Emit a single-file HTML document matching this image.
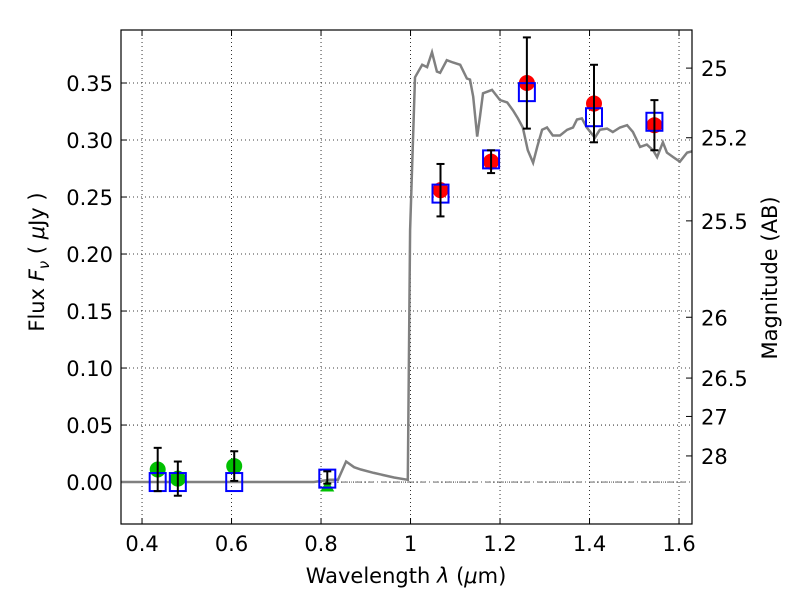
<!DOCTYPE html>
<html><head><meta charset="utf-8"><style>
body{margin:0;background:#fff;}
svg text{font-family:"DejaVu Sans","Liberation Sans",sans-serif;}
</style></head><body>
<svg id="c" width="800" height="600" xmlns="http://www.w3.org/2000/svg"></svg>
<script>
const specLam=[0.353,0.784,0.820,0.838,0.856,0.874,0.889,0.918,0.963,0.994,0.999,1.010,1.026,1.037,1.048,1.059,1.066,1.081,1.095,1.111,1.126,1.133,1.140,1.149,1.155,1.162,1.182,1.200,1.216,1.229,1.240,1.251,1.262,1.274,1.283,1.294,1.305,1.318,1.334,1.350,1.363,1.372,1.383,1.394,1.412,1.423,1.439,1.452,1.468,1.484,1.497,1.513,1.528,1.542,1.551,1.564,1.573,1.587,1.602,1.618,1.629];
const specFlux=[0,0,0.002,0.002,0.018,0.013,0.011,0.008,0.004,0.002,0.221,0.355,0.366,0.364,0.377,0.360,0.359,0.370,0.368,0.366,0.354,0.353,0.338,0.303,0.320,0.341,0.344,0.335,0.333,0.326,0.319,0.311,0.291,0.280,0.294,0.309,0.311,0.304,0.304,0.309,0.311,0.318,0.319,0.311,0.302,0.309,0.310,0.307,0.311,0.313,0.307,0.294,0.296,0.291,0.285,0.298,0.289,0.285,0.281,0.289,0.290];
const greenLam=[0.435,0.48,0.606];
const greenFlux=[0.011,0.003,0.014];
const greenErr=[0.019,0.015,0.013];
const triLam=[0.814];
const triFlux=[-0.003];
const triErr=[0.009];
const redLam=[1.067,1.18,1.26,1.41,1.545];
const redFlux=[0.256,0.281,0.350,0.332,0.313];
const redErr=[0.023,0.010,0.040,0.034,0.022];
const modelLam=[0.435,0.48,0.606,0.814,1.067,1.18,1.26,1.41,1.545];
const modelFlux=[0.0,0.0,0.0,0.003,0.253,0.283,0.342,0.320,0.316];
const xTicks=[0.4,0.6,0.8,1.0,1.2,1.4,1.6];
const xTickLabels=["0.4","0.6","0.8","1","1.2","1.4","1.6"];
const yTicks=[0,0.05,0.1,0.15,0.2,0.25,0.3,0.35];
const yTickLabels=["0.00","0.05","0.10","0.15","0.20","0.25","0.30","0.35"];
const magTicks=[25,25.2,25.5,26,26.5,27,28];
const magTickLabels=["25","25.2","25.5","26","26.5","27","28"];

const L=121,R=692,T=30,B=524,X0=0.353,X1=1.629,Y0=-0.0368,Y1=0.3965;
const sx=v=>L+(v-X0)/(X1-X0)*(R-L);
const sy=v=>B-(v-Y0)/(Y1-Y0)*(B-T);
const NS="http://www.w3.org/2000/svg";
const svg=document.getElementById('c');
function mk(t,a,p){const e=document.createElementNS(NS,t);for(const k in a)e.setAttribute(k,a[k]);(p||svg).appendChild(e);return e;}
const defs=mk('defs',{});const cp=mk('clipPath',{id:'clip'},defs);mk('rect',{x:L,y:T,width:R-L,height:B-T},cp);
const grid=mk('g',{});


xTicks.forEach((v,i)=>{const x=sx(v);
 mk('line',{x1:x,x2:x,y1:T,y2:B,stroke:'#000','stroke-width':0.8,'stroke-dasharray':'1,3'},grid);
 mk('line',{x1:x,x2:x,y1:B,y2:B-6,stroke:'#000'});mk('line',{x1:x,x2:x,y1:T,y2:T+6,stroke:'#000'});
 const t=mk('text',{x:x,y:B+27,'font-size':21,'text-anchor':'middle'});t.textContent=xTickLabels[i];
 
 
});
yTicks.forEach((v,i)=>{const y=sy(v);
 mk('line',{x1:L,x2:R,y1:y,y2:y,stroke:'#000','stroke-width':0.8,'stroke-dasharray':'1,3'},grid);
 mk('line',{x1:L,x2:L+6,y1:y,y2:y,stroke:'#000'});
 const t=mk('text',{x:L-8,y:y+8,'font-size':21,'text-anchor':'end'});t.textContent=yTickLabels[i];
 
 
});
magTicks.forEach((m,i)=>{const y=sy(Math.pow(10,(23.9-m)/2.5));
 mk('line',{x1:R-6,x2:R,y1:y,y2:y,stroke:'#000'});
 const t=mk('text',{x:R+9,y:y+8,'font-size':21});t.textContent=magTickLabels[i];
 
 
});
const zl=mk('line',{x1:L,x2:R,y1:sy(0),y2:sy(0),stroke:'#555','stroke-width':0.8,'stroke-dasharray':'6,3,1,3'});


const g=mk('g',{'clip-path':'url(#clip)'});
const sp=mk('path',{d:specLam.map((l,i)=>(i?'L':'M')+sx(l).toFixed(1)+','+sy(specFlux[i]).toFixed(1)).join(''),fill:'none',stroke:'#808080','stroke-width':2.5},g);


function err(l,f,e){const x=sx(l);mk('line',{x1:x,x2:x,y1:sy(f-e),y2:sy(f+e),stroke:'#000','stroke-width':2},g);
 [f-e,f+e].forEach(v=>mk('line',{x1:x-4,x2:x+4,y1:sy(v),y2:sy(v),stroke:'#000','stroke-width':2},g));}
greenLam.forEach((l,i)=>{const c=mk('circle',{cx:sx(l),cy:sy(greenFlux[i]),r:8,fill:'#00c000'},g);
 
 });
triLam.forEach((l,i)=>{const x=sx(l),y=sy(triFlux[i]);const p=mk('polygon',{points:`${x-7},${y+6} ${x+7},${y+6} ${x},${y-6}`,fill:'#00c000'},g);
 
 });
redLam.forEach((l,i)=>{const c=mk('circle',{cx:sx(l),cy:sy(redFlux[i]),r:8,fill:'#ff0000'},g);
 
 });
modelLam.forEach((l,i)=>{const r=mk('rect',{x:sx(l)-8,y:sy(modelFlux[i])-9,width:16,height:18,fill:'none',stroke:'#0000ff','stroke-width':2},g);
 
 });
greenLam.forEach((l,i)=>err(l,greenFlux[i],greenErr[i]));
triLam.forEach((l,i)=>err(l,triFlux[i]+0.007,triErr[i]*0.6));
redLam.forEach((l,i)=>err(l,redFlux[i],redErr[i]));
const fr=mk('rect',{x:L,y:T,width:R-L,height:B-T,fill:'none',stroke:'#000','stroke-width':1.2});


</script>
<svg width="800" height="600" style="position:absolute;left:0;top:0" xmlns="http://www.w3.org/2000/svg">
<text x="406" y="583" font-size="21" text-anchor="middle" font-family="DejaVu Sans,Liberation Sans,sans-serif">Wavelength  <tspan font-style="italic">λ</tspan> (<tspan font-style="italic">μ</tspan>m)</text>
<text transform="translate(44,262) rotate(-90)" font-size="21" text-anchor="middle" font-family="DejaVu Sans,Liberation Sans,sans-serif">Flux  <tspan font-style="italic">F</tspan><tspan font-style="italic" font-size="15" dy="5">ν</tspan><tspan dy="-5">  (  </tspan><tspan font-style="italic">μ</tspan>Jy )</text>
<text transform="translate(777,278) rotate(-90)" font-size="21" text-anchor="middle" font-family="DejaVu Sans,Liberation Sans,sans-serif">Magnitude (AB)</text>
</svg>
</body></html>
